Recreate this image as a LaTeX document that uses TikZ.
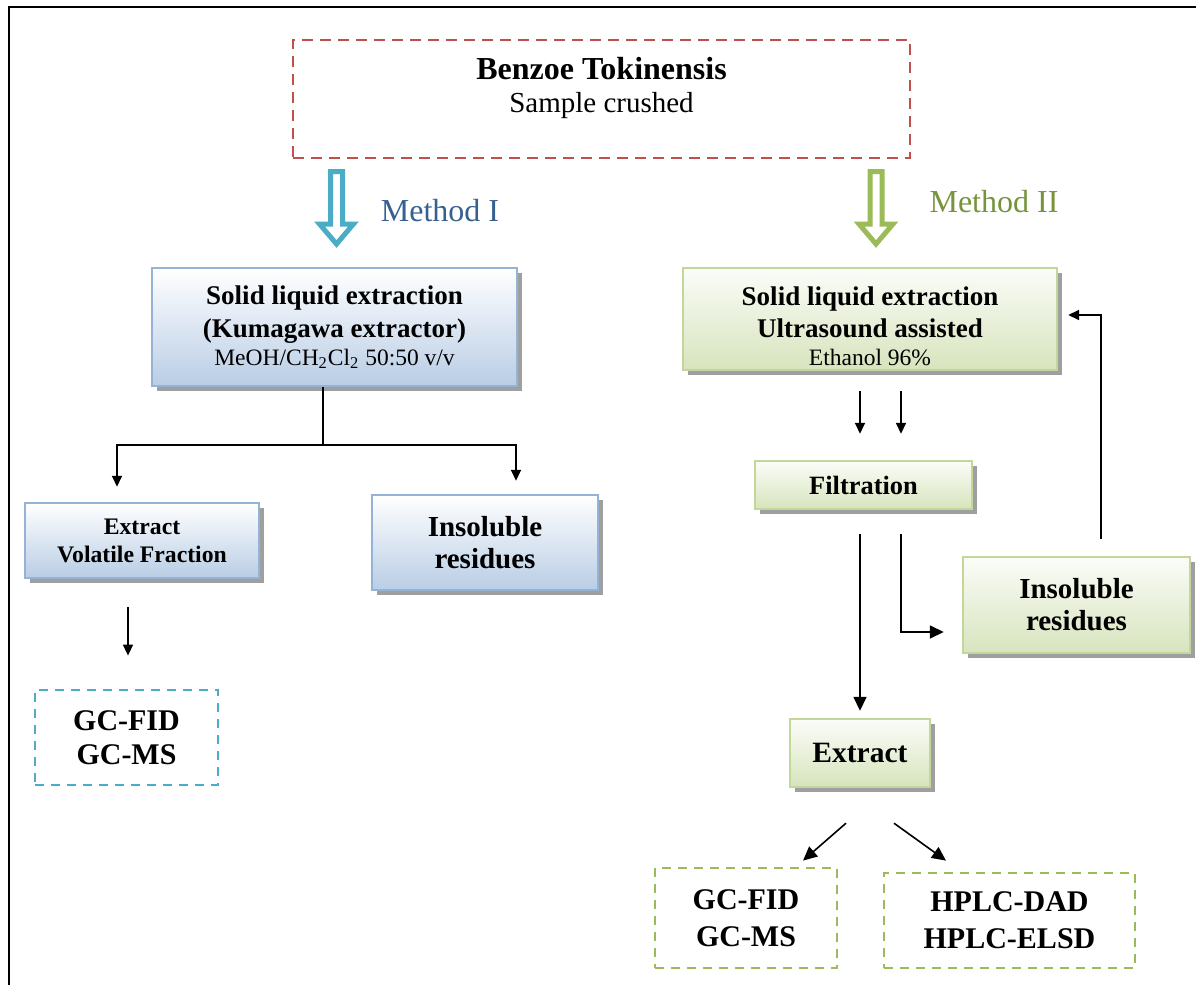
\documentclass[tikz,border=0pt]{standalone}
\usepackage{fontspec}
\setmainfont{Liberation Serif}
\usepackage{xcolor}
\usepackage{tikz}
\usetikzlibrary{calc,arrows.meta,shadows}
\definecolor{brickred}{HTML}{C0504D}
\definecolor{aqua}{HTML}{4BACC6}
\definecolor{leaf}{HTML}{9BBB59}
\definecolor{methblue}{HTML}{376092}
\definecolor{methgreen}{HTML}{77933C}
\definecolor{blueedge}{HTML}{95B3D7}
\definecolor{bluefill}{HTML}{B9CDE5}
\definecolor{greenedge}{HTML}{C3D69B}
\definecolor{greenfill}{HTML}{D7E4BD}

\begin{document}
\begin{tikzpicture}[x=0.5pt,y=-0.5pt,
  shade/.style={drop shadow={shadow xshift=2.5pt,shadow yshift=-2.5pt,fill=gray!75,opacity=1}},
  bluebox/.style={shade,draw=blueedge,line width=1.2pt,top color=white,bottom color=bluefill,align=center,inner sep=0pt},
  greenbox/.style={shade,draw=greenedge,line width=1.2pt,top color=white!90!greenfill,bottom color=greenfill,align=center,inner sep=0pt},
  dashbox/.style={line width=1.4pt,dash pattern=on 4.5pt off 3.5pt,align=center,inner sep=0pt},
  arr/.style={-{Triangle[length=5.5pt,width=5pt]},line width=0.8pt},
  bigarr/.style={-{Triangle[length=7pt,width=6.5pt]},line width=0.8pt}]
\useasboundingbox (0,0) rectangle (1196,985);
\draw[line width=1pt] (9,985)--(9,6.5)--(1196,6.5);

% sample
\node[dashbox,draw=brickred,dash pattern=on 5.5pt off 3.5pt,minimum width=308.5pt,minimum height=59pt,font=\fontsize{14.5}{16.5}\selectfont] (sample) at (601.5,99)
  {{\bfseries\fontsize{16}{16.5}\selectfont Benzoe Tokinensis}\\Sample crushed\rule[-14pt]{0pt}{14pt}};

% hollow arrows + method names
\foreach \cx/\col in {336.5/aqua,876/leaf}{\draw[\col,line width=2.5pt,fill=white,line join=miter] (\cx-6,171.5)--(\cx+6,171.5)--(\cx+6,224)--(\cx+17,224)--(\cx,244)--(\cx-17,224)--(\cx-6,224)--cycle;}
\node[text=methblue,font=\fontsize{16}{19}\selectfont] (methI) at (440,211) {Method I};
\node[text=methgreen,font=\fontsize{16}{19}\selectfont] (methII) at (994,202) {Method II};

% method I
\node[bluebox,minimum width=182.5pt,minimum height=59pt,font=\bfseries\fontsize{13.5}{16.5}\selectfont] (lmain) at (334.5,327)
  {Solid liquid extraction\\(Kumagawa extractor)\\[-2.5pt]{\mdseries\fontsize{11.75}{14}\selectfont MeOH/CH\textsubscript{2}Cl\textsubscript{2} 50:50 v/v}};
\node[bluebox,minimum width=117pt,minimum height=37.5pt,font=\bfseries\fontsize{11.85}{14}\selectfont] (volL) at (142,540.5) {Extract\\Volatile Fraction};
\node[bluebox,minimum width=113pt,minimum height=47.5pt,font=\bfseries\fontsize{14.5}{16}\selectfont] (insL) at (485,542.5) {Insoluble\\residues};
\node[dashbox,draw=aqua,minimum width=91.5pt,minimum height=47.5pt,font=\bfseries\fontsize{15}{17}\selectfont] (gcL) at (126.5,737.5) {GC-FID\\GC-MS};

\coordinate (split) at (323,445);
\draw[line width=0.8pt] ([xshift=-5.75pt]lmain.south) -- (split);
\draw[arr] (split) -| ([xshift=-12.5pt,yshift=7.5pt]volL.north);
\draw[arr] (split) -| ([xshift=15.5pt,yshift=6.5pt]insL.north);
\draw[arr] ([xshift=-7pt,yshift=-14pt]volL.south) -- ([xshift=0.75pt,yshift=16.5pt]gcL.north);

% method II
\node[greenbox,minimum width=187pt,minimum height=51pt,font=\bfseries\fontsize{13.5}{16}\selectfont] (rmain) at (870,319)
  {\rule{0pt}{16.5pt}Solid liquid extraction\\Ultrasound assisted\\[-2pt]{\mdseries\fontsize{11.75}{14}\selectfont Ethanol 96\%}};
\node[greenbox,minimum width=108.5pt,minimum height=24pt,font=\bfseries\fontsize{13.2}{16}\selectfont] (filt) at (863.5,485) {Filtration};
\node[greenbox,minimum width=113.5pt,minimum height=48pt,font=\bfseries\fontsize{14.5}{16}\selectfont] (insR) at (1076.5,605) {Insoluble\\residues};
\node[greenbox,minimum width=70pt,minimum height=34pt,font=\bfseries\fontsize{14.75}{17}\selectfont] (extr) at (860,753) {Extract};
\node[dashbox,draw=leaf,minimum width=91pt,minimum height=50pt,font=\bfseries\fontsize{15}{18.5}\selectfont] (gcR) at (746,918) {GC-FID\\GC-MS};
\node[dashbox,draw=leaf,minimum width=125.5pt,minimum height=47.5pt,font=\bfseries\fontsize{15}{18.5}\selectfont] (hplc) at (1009.5,920.5) {HPLC-DAD\\HPLC-ELSD};

\foreach \dx in {-5,15.5}{\draw[arr,shorten >=13pt] ([xshift=\dx pt,yshift=-10pt]rmain.south) -- ([xshift=\dx pt]rmain.south |- filt.north);}
\draw[bigarr,shorten >=3.5pt] ([xshift=-1.75pt,yshift=-12pt]filt.south) -- ([xshift=-1.75pt]filt.south |- extr.north);
\draw[bigarr,shorten >=9pt] ([xshift=18.75pt,yshift=-12pt]filt.south) |- ([yshift=-13.5pt]insR.west);
\draw[arr,shorten >=5pt] ([xshift=12.25pt,yshift=8.5pt]insR.north) |- ([yshift=2pt]rmain.east);
\draw[bigarr] ([xshift=-7pt,yshift=-17.5pt]extr.south) -- ([xshift=28.5pt,yshift=3pt]gcR.north);
\draw[bigarr] ([xshift=17pt,yshift=-17.5pt]extr.south) -- ([xshift=-31.75pt,yshift=5.5pt]hplc.north);
\end{tikzpicture}
\end{document}
